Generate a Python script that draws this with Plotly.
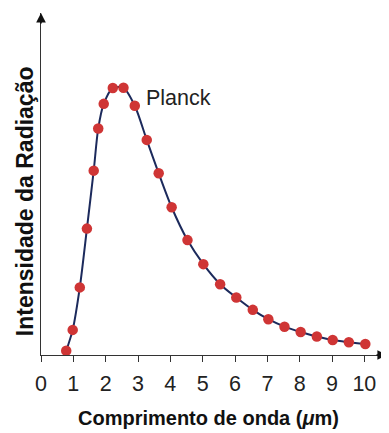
import plotly.graph_objects as go

wavelength_um = [0.78, 0.98, 1.2, 1.42, 1.63, 1.77, 1.94, 2.22, 2.55, 2.9, 3.27, 3.64, 4.04,
                 4.53, 5.02, 5.54, 6.04, 6.55, 7.03, 7.53, 8.03, 8.53, 9.02, 9.52, 10.03]
intensity = [1.6, 9.4, 25.3, 47.3, 69.0, 84.8, 94.0, 99.9, 100.0, 93.3, 80.5, 68.0, 55.3,
             43.0, 34.0, 26.5, 21.5, 16.9, 13.4, 10.6, 8.6, 6.9, 5.6, 4.8, 4.1]
x_ticks = list(range(0, 11))
x_tick_labels = [str(t) for t in x_ticks]
curve_label = "Planck"
x_title = "Comprimento de onda (<i>μ</i>m)"
y_title = "Intensidade da Radiação"

X_MAX = 10.7
Y_MAX = 128
FONT = "Liberation Sans, Arial, sans-serif"

fig = go.Figure()
fig.add_trace(go.Scatter(
    x=wavelength_um, y=intensity, mode="lines",
    line=dict(color="#1c2a5c", width=2, shape="spline", smoothing=0.8),
    hoverinfo="skip", showlegend=False))
fig.add_trace(go.Scatter(
    x=wavelength_um, y=intensity, mode="markers",
    marker=dict(color="#cf3535", size=10.5, line=dict(width=0)),
    showlegend=False))

axis_color = "#333333"
# page body has an 8px default margin, so the figure is sized/offset to compensate
fig.update_layout(
    width=381, height=425,
    margin=dict(l=33, r=2, t=5, b=78),
    paper_bgcolor="white", plot_bgcolor="white",
    font=dict(family=FONT, color="#1a1a1a"),
    xaxis=dict(range=[0, X_MAX], showgrid=False, zeroline=False, automargin=False,
               showline=True, linecolor=axis_color, linewidth=1.3,
               tickmode="array", tickvals=x_ticks, ticktext=x_tick_labels,
               ticks="outside", ticklen=6, tickwidth=1.2, tickcolor=axis_color,
               ticklabelstandoff=3,
               tickfont=dict(size=21.5, color="#222")),
    yaxis=dict(range=[0, Y_MAX], showgrid=False, zeroline=False, automargin=False,
               showline=True, linecolor=axis_color, linewidth=1.3,
               showticklabels=False, ticks=""),
)

# axis titles
fig.add_annotation(x=0.484, y=-0.184, xref="paper", yref="paper", text=x_title, showarrow=False,
                   xanchor="center", yanchor="middle",
                   font=dict(size=20, family=FONT, color="#111", weight="bold"))
fig.add_annotation(x=-0.046, y=0.45, xref="paper", yref="paper", text=y_title, showarrow=False,
                   textangle=-90, xanchor="center", yanchor="middle",
                   font=dict(size=23, family=FONT, color="#111", weight="bold"))

# axis arrowheads
fig.add_annotation(x=0, y=Y_MAX, xref="x", yref="y", ax=0, ay=12, axref="pixel", ayref="pixel",
                   text="", showarrow=True, arrowhead=2, arrowsize=1.2, arrowwidth=1.6, arrowcolor="#111")
fig.add_annotation(x=X_MAX, y=0, xref="x", yref="y", ax=-12, ay=0, axref="pixel", ayref="pixel",
                   text="", showarrow=True, arrowhead=2, arrowsize=1.2, arrowwidth=1.6, arrowcolor="#111")

fig.add_annotation(x=3.17, y=96.3, xref="x", yref="y", text=curve_label, showarrow=False,
                   xanchor="left", yanchor="middle", font=dict(size=21.5, color="#222"))

fig.write_html("out.html")
